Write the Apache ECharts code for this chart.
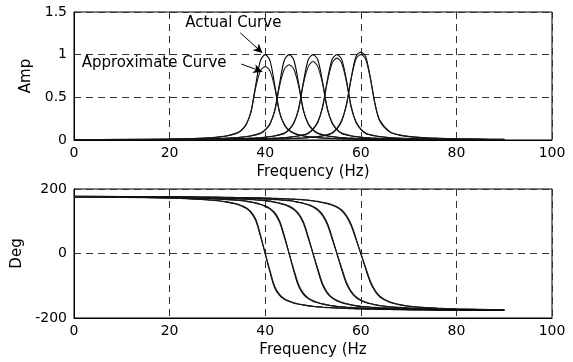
<!DOCTYPE html>
<html><head><meta charset="utf-8">
<script src="https://cdn.jsdelivr.net/npm/echarts@6/dist/echarts.min.js"></script>
<style>html,body{margin:0;padding:0;background:#fff}#c{width:573px;height:362px}</style>
</head><body><div id="c"></div>
<script>
// Frequency grid (Hz)
const freq = [0,10,20,25,28,30,32,34,35,36,37,38,39,40,41,42,43,44,45,46,47,48,49,50,51,52,53,54,55,56,57,58,59,60,61,62,63,64,66,68,70,73,76,80,85,90];

// Amplitude: actual (a) and approximate (b) curves for modes at 40,45,50,55,60 Hz
const amp40a = [0.003,0.006,0.01,0.016,0.023,0.032,0.046, 0.075,0.11,0.175,0.33,0.64,0.93,1,0.93,0.64,0.33,0.175,0.11,0.075,0.058,0.046,0.038,0.032,0.027,0.023,0.02,0.018,0.016,0.014,0.013,0.012,0.011,0.01,0.0095,0.009,0.0085,0.008, 0.007,0.0065,0.006,0.005,0.0045,0.004,0.003,0.0025];
const amp40b = [0.003,0.007,0.011,0.017,0.025,0.035,0.05, 0.081,0.115,0.184,0.32,0.61,0.81,0.86,0.81,0.61,0.32,0.184,0.115,0.081,0.063,0.05,0.041,0.035,0.029,0.025,0.022,0.019,0.017,0.015,0.014,0.013,0.012,0.011,0.01,0.0097,0.0092,0.0086, 0.0076,0.007,0.0065,0.0054,0.0049,0.0043,0.0032,0.0027];
const amp45a = [0.003,0.0045,0.0075,0.01,0.013,0.016,0.02, 0.027,0.032,0.038,0.046,0.058,0.075,0.115,0.185,0.35,0.66,0.935,1,0.935,0.66,0.35,0.185,0.115,0.075,0.058,0.046,0.038,0.032,0.027,0.023,0.02,0.018,0.016,0.014,0.013,0.012,0.011, 0.0095,0.0085,0.0075,0.0065,0.0058,0.0045,0.004,0.003];
const amp45b = [0.003,0.005,0.008,0.011,0.014,0.017,0.022, 0.029,0.035,0.041,0.05,0.063,0.081,0.121,0.194,0.34,0.63,0.83,0.88,0.83,0.63,0.34,0.194,0.121,0.081,0.063,0.05,0.041,0.035,0.029,0.025,0.022,0.019,0.017,0.015,0.014,0.013,0.012, 0.01,0.009,0.008,0.007,0.0063,0.0049,0.0043,0.0032];
const amp50a = [0.0025,0.004,0.006,0.0075,0.009,0.01,0.012, 0.014,0.016,0.018,0.02,0.023,0.027,0.032,0.038,0.046,0.058,0.076,0.12,0.195,0.37,0.68,0.94,1,0.94,0.68,0.37,0.195,0.12,0.076,0.058,0.046,0.038,0.032,0.027,0.023,0.02,0.018, 0.014,0.012,0.01,0.0085,0.007,0.006,0.0045,0.004];
const amp50b = [0.0027,0.0043,0.0065,0.0081,0.0097,0.011,0.013, 0.015,0.017,0.019,0.022,0.025,0.029,0.035,0.041,0.05,0.063,0.082,0.126,0.205,0.36,0.66,0.86,0.92,0.86,0.66,0.36,0.205,0.126,0.082,0.063,0.05,0.041,0.035,0.029,0.025,0.022,0.019, 0.015,0.013,0.011,0.0092,0.0076,0.0065,0.0049,0.0043];
const amp55a = [0.002,0.003,0.0045,0.006,0.0068,0.0075,0.0085, 0.0095,0.01,0.011,0.012,0.013,0.014,0.016,0.018,0.02,0.023,0.027,0.032,0.038,0.046,0.058,0.077,0.125,0.205,0.39,0.7,0.945,1,0.945,0.7,0.39,0.205,0.125,0.077,0.058,0.046,0.038, 0.027,0.02,0.016,0.012,0.0095,0.0075,0.006,0.0045];
const amp55b = [0.0022,0.0032,0.0049,0.0065,0.0073,0.0081,0.0092, 0.01,0.011,0.012,0.013,0.014,0.015,0.017,0.019,0.022,0.025,0.029,0.035,0.041,0.05,0.063,0.083,0.131,0.215,0.38,0.68,0.9,0.96,0.9,0.68,0.38,0.215,0.131,0.083,0.063,0.05,0.041, 0.029,0.022,0.017,0.013,0.01,0.0081,0.0065,0.0049];
const amp60a = [0.002,0.0025,0.004,0.0045,0.005,0.006,0.0065, 0.007,0.0075,0.008,0.0085,0.009,0.0095,0.01,0.011,0.012,0.013,0.014,0.016,0.018,0.02,0.023,0.027,0.032,0.038,0.046,0.06,0.08,0.13,0.22,0.42,0.73,0.98,1.03,0.98,0.73,0.42,0.22, 0.095,0.057,0.04,0.027,0.02,0.014,0.01,0.007];
const amp60b = [0.002,0.0027,0.0043,0.0049,0.0054,0.0065,0.007, 0.0076,0.0081,0.0086,0.0092,0.0097,0.01,0.011,0.012,0.013,0.014,0.015,0.017,0.019,0.022,0.025,0.029,0.035,0.041,0.05,0.065,0.086,0.137,0.231,0.41,0.72,0.95,1.0,0.95,0.72,0.41,0.231, 0.1,0.061,0.043,0.029,0.022,0.015,0.011,0.0076];

// Phase (deg): actual (a) and approximate (b)
const ph40a = [176.0,174.7,172.0,169.3,166.7,164.1,160.1, 154,149,142,130,107,58,0,-58,-107,-130,-142,-149,-154,-157.5,-160.1,-162.3,-164.1,-165.5,-166.7,-167.7,-168.6,-169.3,-170.0,-170.6,-171.1,-171.6,-172.0,-172.4,-172.7,-173.0,-173.3, -173.8,-174.3,-174.7,-175.1,-175.5,-176.0,-176.4,-176.8];
const ph40b = [175.5,174.1,171.4,168.7,166.0,163.4,159.2, 152.8,147.5,140,127,102,53,0,-53,-102,-127,-140,-147.5,-152.8,-156.5,-159.2,-161.6,-163.5,-164.9,-166.1,-167.1,-168.0,-168.7,-169.4,-170.0,-170.5,-171.0,-171.4,-171.8,-172.1,-172.4,-172.7, -173.2,-173.7,-174.1,-174.5,-174.9,-175.4,-175.8,-176.2];
const ph45a = [176.4,175.4,173.6,172.0,170.6,169.3,167.7, 165.5,164.1,162.3,159.8,157,153,148,140,127,102,55,0,-55,-102,-127,-140,-148,-153,-157,-159.8,-162.3,-164.1,-165.5,-166.7,-167.7,-168.6,-169.3,-170.0,-170.6,-171.1,-171.6, -172.4,-173.0,-173.6,-174.3,-174.8,-175.4,-176.0,-176.4];
const ph45b = [175.8,174.8,173.0,171.4,170.0,168.7,167.1, 164.9,163.5,161.6,158.9,156,151.8,146,137.5,123,97,50,0,-50,-97,-123,-137.5,-146,-151.8,-156,-158.9,-161.6,-163.5,-164.9,-166.1,-167.1,-168.0,-168.7,-169.4,-170.0,-170.5,-171.0, -171.8,-172.4,-173.0,-173.7,-174.2,-174.8,-175.4,-175.8];
const ph50a = [176.8,176.0,174.7,173.6,172.7,172.0,171.1, 170.0,169.3,168.6,167.7,166.7,165.5,164.1,162.3,159.5,156.5,152.5,147,138.5,124,98,52,0,-52,-98,-124,-138.5,-147,-152.5,-156.5,-159.5,-162.3,-164.1,-165.5,-166.7,-167.7,-168.6, -170.0,-171.1,-172.0,-173.0,-173.8,-174.7,-175.4,-176.0];
const ph50b = [176.2,175.4,174.1,173.0,172.1,171.4,170.5, 169.4,168.7,168.0,167.1,166.1,164.9,163.5,161.6,158.5,155.5,151.2,145,136,120,93,47,0,-47,-93,-120,-136,-145,-151.2,-155.5,-158.5,-161.6,-163.5,-164.9,-166.1,-167.1,-168.0, -169.4,-170.5,-171.4,-172.4,-173.2,-174.1,-174.8,-175.4];
const ph55a = [177.1,176.4,175.4,174.7,174.1,173.6,173.0, 172.4,172.0,171.6,171.1,170.6,170.0,169.3,168.6,167.7,166.7,165.5,164.1,162.0,159,156,151.8,146,137,121,94,50,0,-50,-94,-121,-137,-146,-151.8,-156,-159,-162.0, -165.5,-167.7,-169.3,-171.1,-172.4,-173.6,-174.7,-175.4];
const ph55b = [176.5,175.8,174.8,174.1,173.5,173.0,172.4, 171.8,171.4,171.0,170.5,170.0,169.4,168.7,168.0,167.1,166.1,164.9,163.5,161.4,158.2,155,150.5,144,134,117,89,45,0,-45,-89,-117,-134,-144,-150.5,-155,-158.2,-161.4, -164.9,-167.1,-168.7,-170.5,-171.8,-173.0,-174.1,-174.8];
const ph60a = [177.3,176.8,176.0,175.4,175.0,174.7,174.3, 173.8,173.6,173.3,173.0,172.7,172.4,172.0,171.6,171.1,170.6,170.0,169.3,168.6,167.7,166.7,165.5,163.5,161.5,158.5,155.5,151,145,135,118,90,47,0,-47,-90,-118,-135, -151,-158.5,-163.5,-167.7,-170.0,-172.0,-173.6,-174.7];
const ph60b = [176.7,176.2,175.4,174.8,174.4,174.1,173.7, 173.2,173.0,172.7,172.4,172.1,171.8,171.4,171.0,170.5,170.0,169.4,168.7,168.0,167.1,166.1,164.9,162.8,160.7,157.8,154.6,149.8,143,132,114,85,43,0,-43,-85,-114,-132, -149.8,-157.8,-162.8,-167.1,-169.4,-171.4,-173.0,-174.1];

// Tick values
const xTicks = [0,20,40,60,80,100];
const ampTicks = [0,0.5,1,1.5];
const degTicks = [-200,0,200];

// Annotation anchors (data coords)
const annActualText = [23.3, 1.37];
const annApproxText = [1.6, 0.90];
const arrowActual = [[34.8, 1.256], [39.4, 1.02]];
const arrowApprox = [[35.0, 0.89], [39.4, 0.80]];

const FONT = '"DejaVu Sans", "Liberation Sans", sans-serif';
const zip = (ys) => freq.map((f, i) => [f, ys[i]]);

const ampSets = [amp40a, amp40b, amp45a, amp45b, amp50a, amp50b, amp55a, amp55b, amp60a, amp60b];
const phSets = [ph40a, ph40b, ph45a, ph45b, ph50a, ph50b, ph55a, ph55b, ph60a, ph60b];

const series = [];
ampSets.forEach((ys, i) => {
  series.push({
    type: 'line', xAxisIndex: 0, yAxisIndex: 0, data: zip(ys),
    showSymbol: false, smooth: 0.3, silent: true,
    lineStyle: { color: i % 2 ? '#1a1a1a' : '#000', width: 1.1 }
  });
});
phSets.forEach((ys, i) => {
  series.push({
    type: 'line', xAxisIndex: 1, yAxisIndex: 1, data: zip(ys),
    showSymbol: false, smooth: 0.35, silent: true,
    lineStyle: { color: i % 2 ? '#1a1a1a' : '#000', width: 1.1 }
  });
});
series[0].markLine = {
  silent: true, symbol: ['none', 'arrow'], symbolSize: [7, 9], animation: false,
  label: { show: false },
  lineStyle: { color: '#000', width: 1, type: 'solid' },
  data: [
    [{ coord: arrowActual[0] }, { coord: arrowActual[1] }],
    [{ coord: arrowApprox[0] }, { coord: arrowApprox[1] }]
  ]
};

function xAxisCfg(gi, name) {
  return {
    gridIndex: gi, type: 'value', min: xTicks[0], max: xTicks[xTicks.length - 1], interval: 20,
    name: name, nameLocation: 'middle', nameGap: 25,
    nameTextStyle: { fontFamily: FONT, fontSize: 15, color: '#000' },
    axisLine: { show: true, onZero: false, lineStyle: { color: '#000', width: 1 } },
    axisTick: { show: false },
    axisLabel: { fontFamily: FONT, fontSize: 14, color: '#000', margin: 6 },
    splitLine: { show: true, lineStyle: { color: '#333', type: [7, 5], width: 1 } }
  };
}
function yAxisCfg(gi, name, min, max, interval, gap) {
  return {
    gridIndex: gi, type: 'value', min: min, max: max, interval: interval,
    name: name, nameLocation: 'middle', nameGap: gap, nameRotate: 90,
    nameTextStyle: { fontFamily: FONT, fontSize: 15, color: '#000' },
    axisLine: { show: true, onZero: false, lineStyle: { color: '#000', width: 1 } },
    axisTick: { show: false },
    axisLabel: { fontFamily: FONT, fontSize: 14, color: '#000', margin: 7 },
    splitLine: { show: true, lineStyle: { color: '#333', type: [7, 5], width: 1 } }
  };
}

const chart = echarts.init(document.getElementById('c'), null, { renderer: 'canvas' });
chart.setOption({
  animation: false,
  backgroundColor: '#fff',
  grid: [
    { left: 74, right: 21, top: 12, height: 128, show: true, borderColor: '#000', borderWidth: 1, backgroundColor: 'transparent' },
    { left: 74, right: 21, top: 189, height: 129, show: true, borderColor: '#000', borderWidth: 1, backgroundColor: 'transparent' }
  ],
  xAxis: [xAxisCfg(0, 'Frequency (Hz)'), xAxisCfg(1, 'Frequency (Hz')],
  yAxis: [
    yAxisCfg(0, 'Amp', ampTicks[0], ampTicks[ampTicks.length - 1], 0.5, 39),
    yAxisCfg(1, 'Deg', degTicks[0], degTicks[degTicks.length - 1], 200, 45)
  ],
  series: series
});

const p1 = chart.convertToPixel({ xAxisIndex: 0, yAxisIndex: 0 }, annActualText);
const p2 = chart.convertToPixel({ xAxisIndex: 0, yAxisIndex: 0 }, annApproxText);
chart.setOption({
  graphic: [
    { type: 'text', x: p1[0], y: p1[1], silent: true,
      style: { text: 'Actual Curve', font: '15px ' + FONT, fill: '#000', verticalAlign: 'middle', textVerticalAlign: 'middle' } },
    { type: 'text', x: p2[0], y: p2[1], silent: true,
      style: { text: 'Approximate Curve', font: '15px ' + FONT, fill: '#000', verticalAlign: 'middle', textVerticalAlign: 'middle' } }
  ]
});
</script>
</body></html>
